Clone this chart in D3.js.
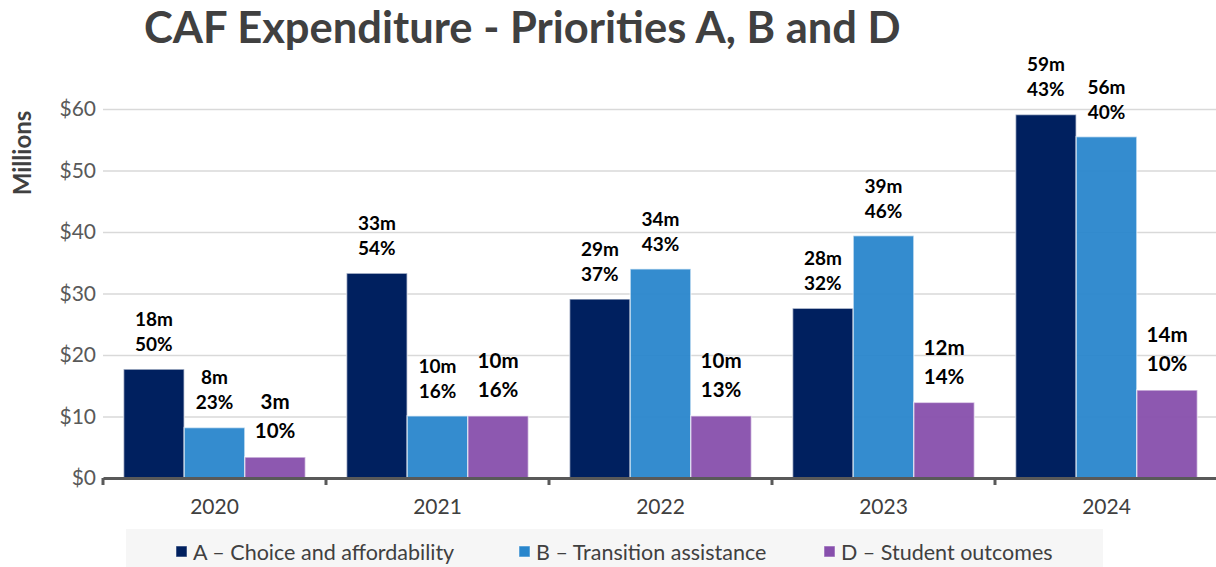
<!DOCTYPE html>
<html>
<head>
<meta charset="utf-8">
<script src="https://cdn.jsdelivr.net/npm/d3@7"></script>
<style>
  body { margin: 0; background: #fff; }
  svg { display: block; font-family: Lato, "Open Sans", sans-serif; }
</style>
</head>
<body>
<div id="chart"></div>
<script>
// data
var years = ["2020", "2021", "2022", "2023", "2024"];
var seriesNames = ["A \u2013 Choice and affordability", "B \u2013 Transition assistance", "D \u2013 Student outcomes"];
var valuesA = [17.7, 33.3, 29.1, 27.6, 59.1];
var valuesB = [8.2, 10.1, 34.0, 39.4, 55.5];
var valuesD = [3.4, 10.1, 10.1, 12.3, 14.3];
var amountA = ["18m", "33m", "29m", "28m", "59m"];
var amountB = ["8m", "10m", "34m", "39m", "56m"];
var amountD = ["3m", "10m", "10m", "12m", "14m"];
var shareA = ["50%", "54%", "37%", "32%", "43%"];
var shareB = ["23%", "16%", "43%", "46%", "40%"];
var shareD = ["10%", "16%", "13%", "14%", "10%"];
var yTicks = [0, 10, 20, 30, 40, 50, 60];

var width = 1216, height = 567;
var margin = {top: 109, right: -2, bottom: 89, left: 103};
var colors = ["#00205f", "#2986cc", "#874fac"];

var series = [
  {name: seriesNames[0], values: valuesA, amount: amountA, share: shareA, color: colors[0], big: false},
  {name: seriesNames[1], values: valuesB, amount: amountB, share: shareB, color: colors[1], big: false},
  {name: seriesNames[2], values: valuesD, amount: amountD, share: shareD, color: colors[2], big: true}
];

var svg = d3.select("#chart")
  .append("svg")
  .attr("width", width)
  .attr("height", height);

var xScale = d3.scaleBand()
  .domain(years)
  .range([margin.left, width - margin.right]);

// three bars per year, about 20px of air at each side of the group
var xInner = d3.scaleBand()
  .domain(d3.range(series.length))
  .range([0, xScale.bandwidth()])
  .paddingOuter(0.34);

var yScale = d3.scaleLinear()
  .domain([0, 60])
  .range([height - margin.bottom, margin.top]);

// title
svg.append("text")
  .attr("x", 144)
  .attr("y", 43)
  .style("font-size", "43.5px")
  .style("font-weight", "bold")
  .style("fill", "#404040")
  .text("CAF Expenditure - Priorities A, B and D");

// grid
var yGrid = d3.axisLeft(yScale)
  .tickValues(yTicks.slice(1))
  .tickSize(-(width - margin.left - margin.right))
  .tickFormat("");

svg.append("g")
  .attr("class", "grid")
  .attr("transform", `translate(${margin.left},0)`)
  .call(yGrid)
  .call(g => g.select(".domain").remove())
  .selectAll("line")
  .style("stroke", "#d9d9d9")
  .style("stroke-width", 1.5);

// y axis labels
var yAxis = d3.axisLeft(yScale)
  .tickValues(yTicks)
  .tickSize(0)
  .tickPadding(7)
  .tickFormat(d => "$" + d);

svg.append("g")
  .attr("class", "y-axis")
  .attr("transform", `translate(${margin.left},0)`)
  .call(yAxis)
  .call(g => g.select(".domain").remove())
  .selectAll("text")
  .style("font-family", "Lato, sans-serif")
  .style("font-size", "21px")
  .style("fill", "#595959");

svg.append("text")
  .attr("transform", `translate(31,153) rotate(-90)`)
  .attr("text-anchor", "middle")
  .style("font-size", "24px")
  .style("font-weight", "bold")
  .style("fill", "#404040")
  .text("Millions");

// bars
var groups = svg.append("g")
  .attr("class", "bars")
  .selectAll("g")
  .data(series)
  .enter()
  .append("g");

groups.selectAll("rect")
  .data((s, i) => s.values.map((v, j) => ({v: v, year: years[j], i: i, color: s.color})))
  .enter()
  .append("rect")
  .attr("x", d => xScale(d.year) + xInner(d.i))
  .attr("y", d => yScale(d.v))
  .attr("width", xInner.bandwidth())
  .attr("height", d => yScale(0) - yScale(d.v))
  .style("fill", d => d.color)
  .style("fill-opacity", d => d.i === 0 ? 1 : 0.95)
  .style("stroke", "#ffffff")
  .style("stroke-opacity", 0.55)
  .style("stroke-width", 1.5);

// data labels
series.forEach((s, i) => {
  var fs = s.big ? 20.5 : 19;
  var gap1 = s.big ? 55 : 50, gap2 = s.big ? 26 : 25;
  var lab = svg.append("g").attr("class", "labels");
  s.values.forEach((v, j) => {
    var cx = xScale(years[j]) + xInner(i) + xInner.bandwidth() / 2;
    [[s.amount[j], gap1], [s.share[j], gap2]].forEach(t => {
      lab.append("text")
        .attr("x", cx)
        .attr("y", yScale(v) - t[1])
        .attr("dy", "0.36em")
        .attr("text-anchor", "middle")
        .style("font-size", fs + "px")
        .style("font-weight", "bold")
        .style("fill", "#000")
        .text(t[0]);
    });
  });
});

// x axis
var xAxis = d3.axisBottom(xScale).tickSize(0).tickPadding(21);

var xg = svg.append("g")
  .attr("class", "x-axis")
  .attr("transform", `translate(0,${yScale(0)})`)
  .call(xAxis);
xg.select(".domain")
  .style("stroke", "#595959")
  .style("stroke-width", 3);
xg.selectAll("text")
  .style("font-family", "Lato, sans-serif")
  .style("font-size", "21px")
  .style("fill", "#404040");

xg.selectAll(".bound")
  .data(years.concat(["end"]))
  .enter()
  .append("line")
  .attr("class", "bound")
  .attr("x1", (d, i) => i < years.length ? xScale(d) : xScale(years[years.length - 1]) + xScale.bandwidth())
  .attr("x2", (d, i) => i < years.length ? xScale(d) : xScale(years[years.length - 1]) + xScale.bandwidth())
  .attr("y1", 0)
  .attr("y2", 7)
  .style("stroke", "#595959")
  .style("stroke-width", 3);

// legend
var legend = svg.append("g").attr("class", "legend");
legend.append("rect")
  .attr("x", 126)
  .attr("y", 529)
  .attr("width", 977)
  .attr("height", 40)
  .style("fill", "#f6f6f6");

var legendX = [176, 519, 824];
var item = legend.selectAll(".item")
  .data(series)
  .enter()
  .append("g")
  .attr("class", "item")
  .attr("transform", (d, i) => `translate(${legendX[i]},552)`);

item.append("rect")
  .attr("x", 0)
  .attr("y", -6)
  .attr("width", 11)
  .attr("height", 11)
  .style("fill", d => d.color)
  .style("stroke", "#ffffff")
  .style("stroke-opacity", 0.5);

item.append("text")
  .attr("x", 17)
  .attr("y", 0)
  .attr("dy", "0.35em")
  .style("font-size", "21.5px")
  .style("fill", "#404040")
  .text(d => d.name);
</script>
</body>
</html>
